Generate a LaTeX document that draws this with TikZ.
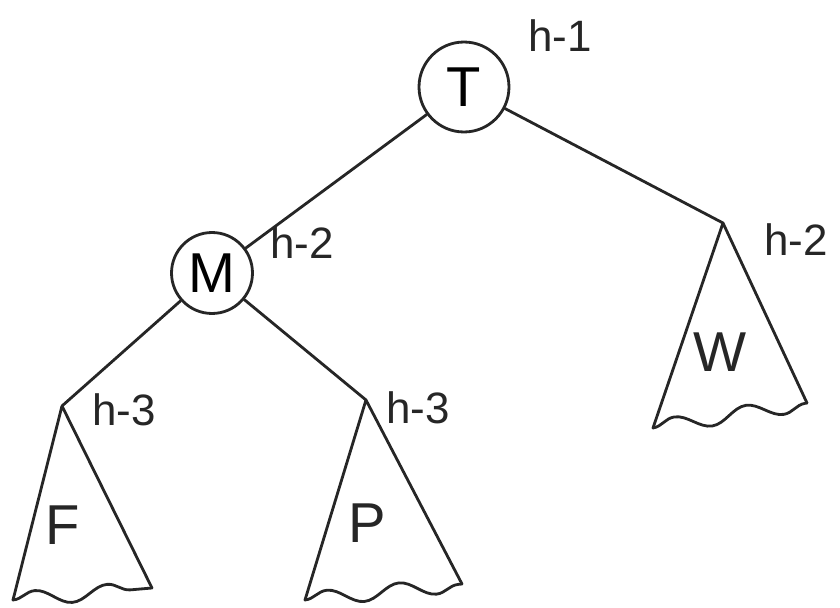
\documentclass[tikz,border=0pt]{standalone}
\usepackage{fontspec}
\setmainfont{Liberation Sans}
\usetikzlibrary{decorations.pathmorphing}

\begin{document}
\begin{tikzpicture}[
  x=0.02cm, y=-0.02cm,
  pen/.style={draw=black!85, line width=1.6pt, line join=round, line cap=round},
  vertex/.style={circle, pen, minimum size=1.8cm, inner sep=0pt, font=\fontsize{32}{34}\selectfont},
  subtree/.style={font=\fontsize{32}{34}\selectfont, text=black!85},
  height/.style={font=\fontsize{25}{27}\selectfont, text=black!85, anchor=west},
  wavy/.style={pen, decorate, decoration={snake, segment length=1.45cm, amplitude=0.15cm}}
]
\useasboundingbox (0,0) rectangle (840,608);

% ===== Inner vertices =====
\node[vertex] (T) at (464,87)  {T};
\node[vertex, minimum size=1.62cm] (M) at (212,273) {M};

% ===== Subtree corners =====
\coordinate (Wtop) at (723,223);
\coordinate (Wl)   at (653,428);
\coordinate (Wr)   at (807,403);
\coordinate (Ftop) at (62,406);
\coordinate (Fl)   at (13,600);
\coordinate (Fr)   at (152,588);
\coordinate (Ptop) at (366,400);
\coordinate (Pl)   at (305,600);
\coordinate (Pr)   at (462,584);

% ===== Subtrees =====
\draw[pen] (Wl) -- (Wtop) -- (Wr);
\draw[wavy] (Wl) -- (Wr);
\draw[pen] (Fl) -- (Ftop) -- (Fr);
\draw[wavy] (Fl) -- (Fr);
\draw[pen] (Pl) -- (Ptop) -- (Pr);
\draw[wavy] (Pl) -- (Pr);

\node[subtree] (W) at (720,352) {W};
\node[subtree] (F) at (63,525)  {F};
\node[subtree] (P) at (367,523) {P};

% ===== Edges =====
\draw[pen] (T) -- (M);
\draw[pen] (T) -- (Wtop);
\draw[pen] (M) -- (Ftop);
\draw[pen] (M) -- (Ptop);

% ===== Heights =====
\node[height] (hT) at (522,36)  {h-1};
\node[height] (hM) at (264,243) {h-2};
\node[height] (hW) at (758,240) {h-2};
\node[height] (hF) at (86,410)  {h-3};
\node[height] (hP) at (380,408) {h-3};

\end{tikzpicture}
\end{document}
